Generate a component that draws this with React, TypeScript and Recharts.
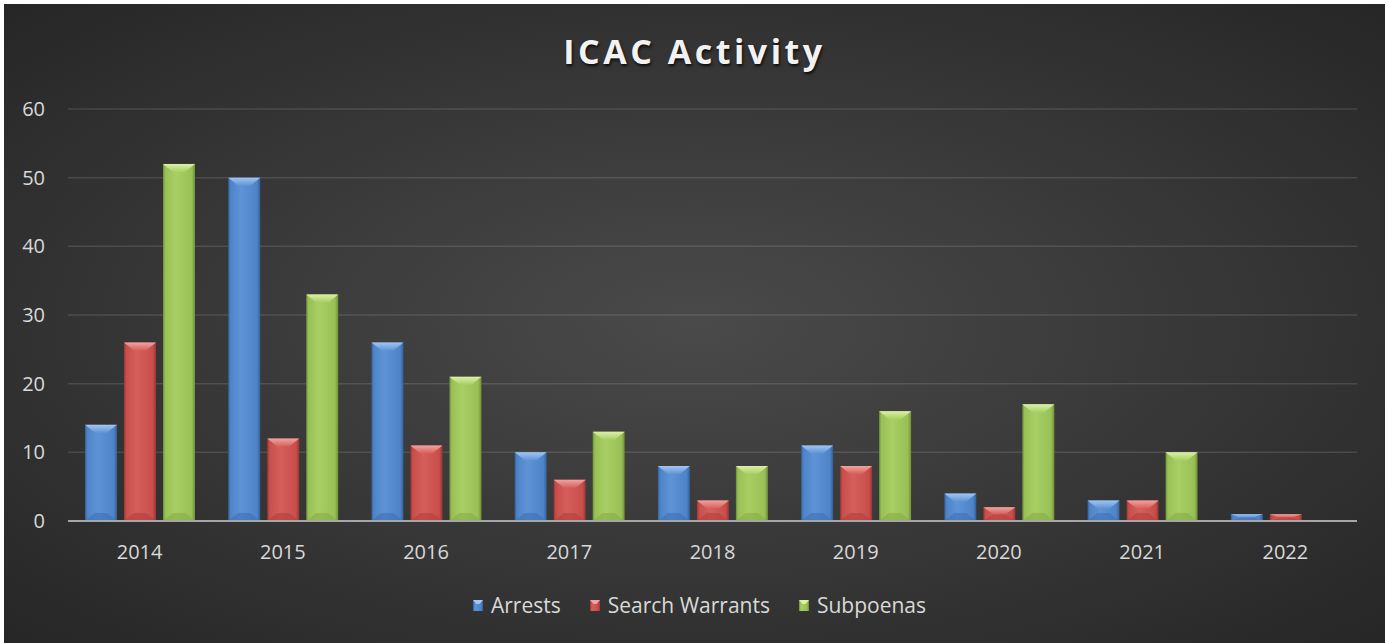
import React from 'react';
import { BarChart, Bar, XAxis, YAxis, CartesianGrid, Legend } from 'recharts';

const years = ['2014', '2015', '2016', '2017', '2018', '2019', '2020', '2021', '2022'];
const arrests = [14, 50, 26, 10, 8, 11, 4, 3, 1];
const searchWarrants = [26, 12, 11, 6, 3, 8, 2, 3, 1];
const subpoenas = [52, 33, 21, 13, 8, 16, 17, 10, 0];
const yTicks = [0, 10, 20, 30, 40, 50, 60];

const seriesNames = ['Arrests', 'Search Warrants', 'Subpoenas'];

const data = years.map((y, i) => ({
  year: y,
  arrests: arrests[i],
  searchWarrants: searchWarrants[i],
  subpoenas: subpoenas[i],
}));

type Pal = { id: string; base: string; light: string; top: string; dark: string; bottom: string };

const palettes: Pal[] = [
  { id: 'blue', base: '#4d84c8', light: '#5e94d6', top: '#a3c5f0', dark: '#345f98', bottom: '#3f70b0' },
  { id: 'red', base: '#c84e4a', light: '#d65f5b', top: '#f0a4a1', dark: '#983634', bottom: '#b0403d' },
  { id: 'green', base: '#98c054', light: '#a8cf64', top: '#dbf0a8', dark: '#6f8f38', bottom: '#86ab47' },
];

const makeShape = (p: Pal) => (props: any) => {
  const { x, y, width: w, height: h } = props;
  if (!h || h <= 0) return <g />;
  const d = Math.min(8, h / 2);
  const ins = Math.min(10, w / 2);
  return (
    <g>
      <rect x={x} y={y} width={w} height={h} fill={`url(#body-${p.id})`} />
      <polygon
        points={`${x},${y} ${x + w},${y} ${x + w - ins},${y + d} ${x + ins},${y + d}`}
        fill={`url(#top-${p.id})`}
      />
      <polygon
        points={`${x},${y + h} ${x + w},${y + h} ${x + w - ins},${y + h - d} ${x + ins},${y + h - d}`}
        fill={p.bottom}
        opacity={0.6}
      />
    </g>
  );
};

const LegendIcon = ({ p }: { p: Pal }) => (
  <svg width={10} height={11} style={{ display: 'block' }}>
    <rect x={0} y={0} width={10} height={11} fill={`url(#lg-${p.id})`} />
    <polygon points="0,0 10,0 6.5,4 3.5,4" fill={p.top} />
    <defs>
      <linearGradient id={`lg-${p.id}`} x1="0" y1="0" x2="1" y2="0">
        <stop offset="0%" stopColor={p.dark} />
        <stop offset="20%" stopColor={p.light} />
        <stop offset="80%" stopColor={p.base} />
        <stop offset="100%" stopColor={p.dark} />
      </linearGradient>
    </defs>
  </svg>
);

const renderLegend = () => (
  <div
    style={{
      height: 30,
      display: 'flex',
      justifyContent: 'center',
      alignItems: 'center',
      fontFamily: '"Open Sans", sans-serif',
      fontSize: 21,
      color: '#d9d9d9',
      paddingLeft: 38,
    }}
  >
    {seriesNames.map((n, i) => (
      <div key={n} style={{ display: 'flex', alignItems: 'center', marginRight: i < 2 ? 29 : 0 }}>
        <LegendIcon p={palettes[i]} />
        <span style={{ marginLeft: 8 }}>{n}</span>
      </div>
    ))}
  </div>
);

const tickStyle = { fill: '#d9d9d9', fontSize: 20, fontFamily: '"Open Sans", sans-serif' };

export default function App() {
  return (
    <div
      style={{
        position: 'absolute',
        left: 4,
        top: 4,
        width: 1381,
        height: 639,
        background: 'radial-gradient(ellipse at 50% 50%, #4a4a4a 0%, #3a3a3a 45%, #262626 100%)',
      }}
    >
      <div
        style={{
          position: 'absolute',
          left: 0,
          top: 24,
          width: 1381,
          textAlign: 'center',
          fontFamily: '"Open Sans", sans-serif',
          fontWeight: 700,
          fontSize: 34,
          letterSpacing: 3.5,
          color: '#f2f2f2',
          textShadow: '1px 2px 3px rgba(0,0,0,0.8)',
          lineHeight: '46px',
          zIndex: 2,
        }}
      >
        ICAC Activity
      </div>
      <BarChart
        width={1381}
        height={639}
        data={data}
        margin={{ top: 105, right: 28, left: 0, bottom: 23 }}
        barSize={32}
        barGap={7}
      >
        <defs>
          {palettes.map((p) => (
            <React.Fragment key={p.id}>
              <linearGradient id={`body-${p.id}`} x1="0" y1="0" x2="1" y2="0">
                <stop offset="0%" stopColor={p.dark} />
                <stop offset="7%" stopColor={p.base} />
                <stop offset="40%" stopColor={p.light} />
                <stop offset="90%" stopColor={p.base} />
                <stop offset="100%" stopColor={p.dark} />
              </linearGradient>
              <linearGradient id={`top-${p.id}`} x1="0" y1="0" x2="0" y2="1">
                <stop offset="0%" stopColor={p.top} />
                <stop offset="100%" stopColor={p.light} />
              </linearGradient>
            </React.Fragment>
          ))}
        </defs>
        <CartesianGrid vertical={false} stroke="rgba(255,255,255,0.12)" strokeWidth={1.5} />
        <XAxis
          dataKey="year"
          height={69}
          tickLine={false}
          tickSize={0}
          tickMargin={24}
          axisLine={{ stroke: '#a6a6a6', strokeWidth: 2 }}
          tick={tickStyle}
        />
        <YAxis
          width={64}
          domain={[0, 60]}
          ticks={yTicks}
          tickLine={false}
          tickSize={0}
          tickMargin={23}
          axisLine={false}
          tick={tickStyle}
        />
        <Legend verticalAlign="bottom" content={renderLegend} />
        <Bar dataKey="arrests" name="Arrests" fill={palettes[0].base} shape={makeShape(palettes[0])} isAnimationActive={false} />
        <Bar dataKey="searchWarrants" name="Search Warrants" fill={palettes[1].base} shape={makeShape(palettes[1])} isAnimationActive={false} />
        <Bar dataKey="subpoenas" name="Subpoenas" fill={palettes[2].base} shape={makeShape(palettes[2])} isAnimationActive={false} />
      </BarChart>
    </div>
  );
}
